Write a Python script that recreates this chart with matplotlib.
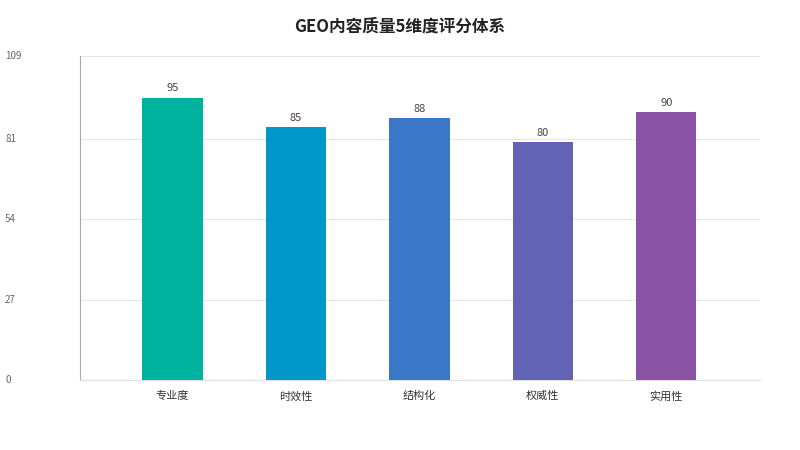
import matplotlib.pyplot as plt

plt.rcParams['font.family'] = ['Noto Sans CJK SC', 'DejaVu Sans']

categories = ["专业度", "时效性", "结构化", "权威性", "实用性"]
scores = [95, 85, 88, 80, 90]
colors = ["#00B39F", "#0098C9", "#3B78C9", "#6263B5", "#8A52A2"]
yticks = [0, 27, 54, 81, 109]

fig = plt.figure(figsize=(8, 4.5), dpi=100)
ax = fig.add_axes([0.1, 0.1556, 0.85, 0.72])

x = range(len(categories))
bars = ax.bar(x, scores, width=0.49, color=colors, zorder=3)
for xi, v in zip(x, scores):
    ax.text(xi, v + 1.5, str(v), ha="center", va="bottom", fontsize=8, color="#444444")

ax.set_xlim(-0.75, 4.76)
ax.set_ylim(0, 109)
ax.set_yticks(yticks)
ax.set_yticklabels([])
ax.tick_params(axis="y", length=0)
ax.tick_params(axis="x", length=0, labelsize=8, colors="#333333", pad=8)
ax.set_xticks(list(x))
ax.set_xticklabels(categories)
ax.grid(axis="y", color="#E6E6E6", linewidth=0.8, zorder=0)
for s in ["top", "right"]:
    ax.spines[s].set_visible(False)
ax.spines["left"].set_color("#AAAAAA")
ax.spines["bottom"].set_color("#E0E0E0")

for t in yticks:
    yf = 0.1556 + 0.72 * t / 109
    fig.text(5 / 800, yf, str(t), ha="left", va="center", fontsize=7, color="#666666")

fig.text(0.5, 0.94, "GEO内容质量5维度评分体系", ha="center", va="center",
         fontsize=12, fontweight="bold", color="#222222")

fig.savefig("out.png", dpi=100)
